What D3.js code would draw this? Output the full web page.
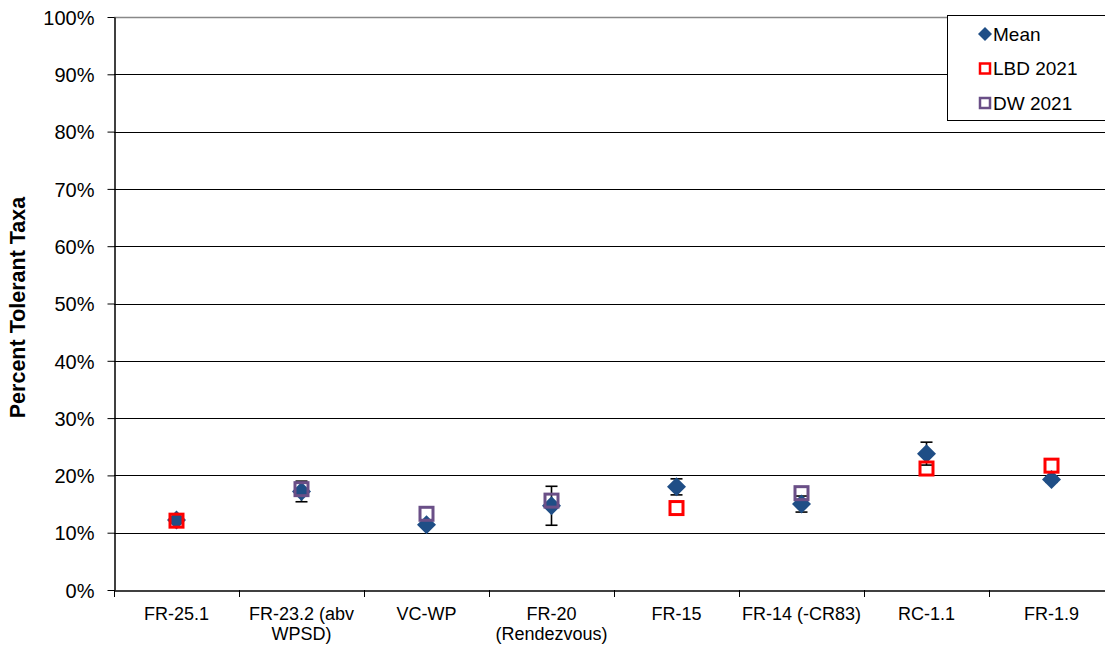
<!DOCTYPE html>
<html><head><meta charset="utf-8">
<script src="https://cdn.jsdelivr.net/npm/d3@7"></script>
<style>body{margin:0;background:#fff;overflow:hidden}svg{display:block;font-family:"Liberation Sans",Arial,sans-serif}</style>
</head><body><svg id="c" width="1105" height="645"></svg>
<script>
const categories = ["FR-25.1","FR-23.2 (abv WPSD)","VC-WP","FR-20 (Rendezvous)","FR-15","FR-14 (-CR83)","RC-1.1","FR-1.9"];
const meanValues = [0.122,0.172,0.114,0.147,0.180,0.150,0.238,0.193];
const meanErr    = [0.004,0.018,0.003,0.034,0.014,0.014,0.020,0.005];
const lbd2021    = [0.121,null,null,null,0.143,null,0.212,0.217];
const dw2021     = [null,0.176,0.133,0.156,null,0.169,null,null];
const yTicks = [0,0.1,0.2,0.3,0.4,0.5,0.6,0.7,0.8,0.9,1.0];
const labelLines = {"FR-23.2 (abv WPSD)":["FR-23.2 (abv","WPSD)"],"FR-20 (Rendezvous)":["FR-20","(Rendezvous)"]};

const svg = d3.select("#c");
const L=114,R=1114,T=17,B=590;
const x = d3.scaleBand().domain(categories).range([L,R]);
const y = d3.scaleLinear().domain([0,1]).range([B,T]);

// gridlines
svg.append("g").selectAll("line").data(yTicks.filter(d=>d>0)).join("line")
  .attr("x1",L).attr("x2",R).attr("y1",d=>Math.round(y(d))+0.5).attr("y2",d=>Math.round(y(d))+0.5)
  .attr("stroke",d=>d===1?"#888":"#000").attr("stroke-width",d=>d===1?1.5:1);

// y axis
const ya = svg.append("g").attr("transform",`translate(${L+0.5},0)`)
  .call(d3.axisLeft(y).tickValues(yTicks).tickFormat(d3.format(".0%")).tickSize(7).tickSizeOuter(0));
ya.select(".domain").attr("stroke","#000").attr("stroke-width",1.5);
ya.selectAll(".tick line").attr("stroke","#000");
ya.selectAll("text").attr("font-size",20).attr("fill","#000").attr("x",-20).attr("dy","0.36em");

// x axis
const xa = svg.append("g").attr("transform",`translate(0,${B+0.5})`)
  .call(d3.axisBottom(x).tickSize(0).tickSizeOuter(0));
xa.select(".domain").attr("stroke","#000").attr("stroke-width",1.5);
xa.selectAll(".tick text").remove();
xa.selectAll(".tick").each(function(d){
  const lines = labelLines[d]||[d];
  const t = d3.select(this).append("text").attr("fill","#000").attr("font-size",18).attr("text-anchor","middle").attr("y",29);
  lines.forEach((s,i)=>t.append("tspan").attr("x",0).attr("dy",i?20:0).text(s));
});
// category separator ticks
svg.append("g").selectAll("line").data(categories).join("line")
  .attr("x1",d=>Math.round(x(d))+0.5).attr("x2",d=>Math.round(x(d))+0.5)
  .attr("y1",B).attr("y2",B+7).attr("stroke","#000");

// y title
svg.append("text").attr("transform",`translate(25,${(T+B)/2+4}) rotate(-90)`)
  .attr("text-anchor","middle").attr("font-size",21.5).attr("font-weight","bold").text("Percent Tolerant Taxa");

const cx = d=>x(d)+x.bandwidth()/2;
const blue="#1F4E86", red="#FF0000", purple="#6A4F87";

// error bars (under markers)
const eb = svg.append("g").attr("stroke","#000").attr("stroke-width",1.6);
categories.forEach((c,i)=>{
  const hi=y(meanValues[i]+meanErr[i]), lo=y(meanValues[i]-meanErr[i]), X=cx(c);
  eb.append("line").attr("x1",X).attr("x2",X).attr("y1",hi).attr("y2",lo);
  eb.append("line").attr("x1",X-6).attr("x2",X+6).attr("y1",hi).attr("y2",hi);
  eb.append("line").attr("x1",X-6).attr("x2",X+6).attr("y1",lo).attr("y2",lo);
});

// mean diamonds
svg.append("g").selectAll("path").data(categories.map((c,i)=>({c,v:meanValues[i]}))).join("path")
  .attr("d","M0,-9.5L9.5,0L0,9.5L-9.5,0Z").attr("transform",d=>`translate(${cx(d.c)},${y(d.v)})`)
  .attr("fill",blue);

// LBD squares
svg.append("g").selectAll("rect").data(categories.map((c,i)=>({c,v:lbd2021[i]})).filter(d=>d.v!=null)).join("rect")
  .attr("x",d=>cx(d.c)-6.5).attr("y",d=>y(d.v)-6.5).attr("width",13).attr("height",13)
  .attr("fill","none").attr("stroke",red).attr("stroke-width",3);

// DW squares
svg.append("g").selectAll("rect").data(categories.map((c,i)=>({c,v:dw2021[i]})).filter(d=>d.v!=null)).join("rect")
  .attr("x",d=>cx(d.c)-6.5).attr("y",d=>y(d.v)-6.5).attr("width",13).attr("height",13)
  .attr("fill","none").attr("stroke",purple).attr("stroke-width",3);

// legend
const lg = svg.append("g");
lg.append("rect").attr("x",947.5).attr("y",15.5).attr("width",165).attr("height",105)
  .attr("fill","#fff").attr("stroke","#000").attr("stroke-width",1);
const items=[{n:"Mean",t:"d"},{n:"LBD 2021",t:"r"},{n:"DW 2021",t:"p"}];
items.forEach((it,i)=>{
  const yy=34+i*34.5;
  if(it.t==="d") lg.append("path").attr("d","M0,-7L7,0L0,7L-7,0Z").attr("transform",`translate(985,${yy})`).attr("fill",blue);
  else lg.append("rect").attr("x",980).attr("y",yy-5).attr("width",10).attr("height",10).attr("fill","#fff")
      .attr("stroke",it.t==="r"?red:purple).attr("stroke-width",2.5);
  lg.append("text").attr("x",993).attr("y",yy).attr("dy","0.36em").attr("font-size",19).attr("fill","#000").text(it.n);
});
</script></body></html>
